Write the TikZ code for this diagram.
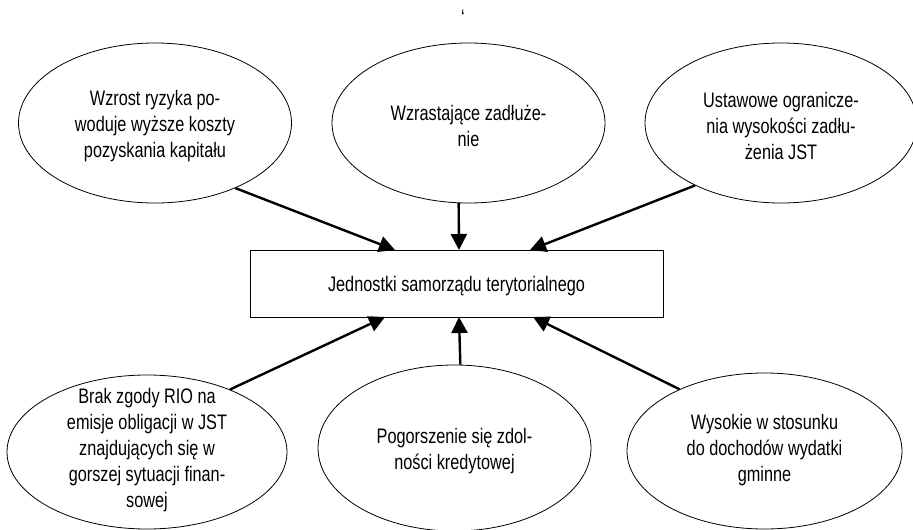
\documentclass[tikz,border=0pt]{standalone}
\usepackage{fontspec}
\setmainfont{Liberation Sans}[FakeStretch=0.775]
\usetikzlibrary{shapes.geometric,arrows.meta}
\tikzset{
  oval/.style={draw, ellipse, line width=0.8pt, inner sep=0pt},
  txt/.style={align=center, inner sep=0pt, font=\fontsize{21}{26}\selectfont},
  box/.style={draw, rectangle, line width=0.9pt, inner sep=0pt, minimum width=413pt, minimum height=67pt},
  arr/.style={line width=2.4pt, -{Triangle[length=16pt,width=16pt]}}
}
\begin{document}
\begin{tikzpicture}[x=1pt,y=-1pt]
\useasboundingbox (0,0) rectangle (913,530);
% top ellipses
\node[oval, minimum width=273pt, minimum height=160pt] (tl) at (155,123) {};
\node[txt] (tlt) at (155,126) {Wzrost ryzyka po-\\woduje wyższe koszty\\pozyskania kapitału};
\node[oval, minimum width=273pt, minimum height=160pt] (tm) at (468.5,123) {};
\node[txt] (tmt) at (468.5,126) {Wzrastające zadłuże-\\nie};
\node[oval, minimum width=272pt, minimum height=160pt] (tr) at (781,123) {};
\node[txt] (trt) at (781,126) {Ustawowe ogranicze-\\nia wysokości zadłu-\\żenia JST};
% central box
\node[box] (rect) at (456.5,283.5) {};
\node[txt] (rectt) at (456.5,286) {Jednostki samorządu terytorialnego};
% bottom ellipses
\node[oval, minimum width=280pt, minimum height=154pt] (bl) at (147,452) {};
\node[txt] (blt) at (147,450) {Brak zgody RIO na\\emisje obligacji w JST\\znajdujących się w\\gorszej sytuacji finan-\\sowej};
\node[oval, minimum width=273pt, minimum height=166pt] (bm) at (454.5,448) {};
\node[txt] (bmt) at (454.5,451) {Pogorszenie się zdol-\\ności kredytowej};
\node[oval, minimum width=275pt, minimum height=156pt] (br) at (764.5,451) {};
\node[txt] (brt) at (764.5,450) {Wysokie w stosunku\\do dochodów wydatki\\gminne};
% stray mark
\node[txt, anchor=north] (mark) at (463,10) {\symbol{96}};
% arrow end points on the box
\coordinate (e1) at (395,250);
\coordinate (e2) at (459,250);
\coordinate (e3) at (530,250);
\coordinate (e4) at (385,317);
\coordinate (e5) at (459,317);
\coordinate (e6) at (533,317);
% connectors
\draw[arr] (tl.-39) -- (e1);
\draw[arr] (tm.-97) -- (e2);
\draw[arr] (tr.-144) -- (e3);
\draw[arr] (bl.37) -- (e4);
\draw[arr] (bm.86.5) -- (e5);
\draw[arr] (br.144.5) -- (e6);
\end{tikzpicture}
\end{document}
